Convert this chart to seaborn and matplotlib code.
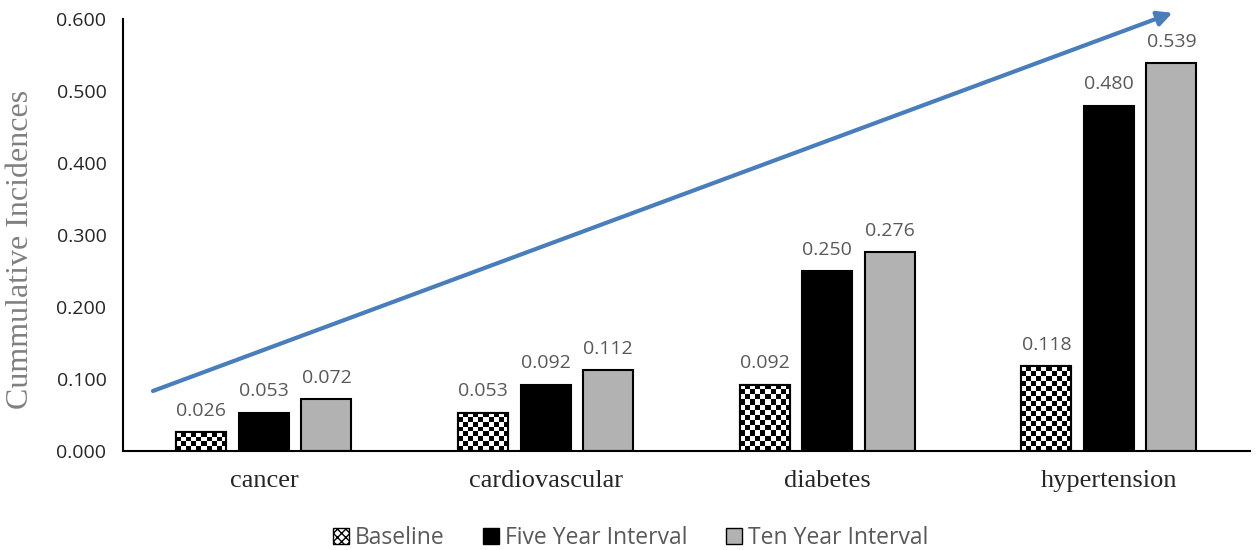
import numpy as np
import pandas as pd
import matplotlib
matplotlib.use('Agg')
import matplotlib.pyplot as plt
from matplotlib.patches import Patch
import seaborn as sns

categories = ['cancer', 'cardiovascular', 'diabetes', 'hypertension']
series = ['Baseline', 'Five Year Interval', 'Ten Year Interval']
baseline = [0.026, 0.053, 0.092, 0.118]
five_year = [0.053, 0.092, 0.250, 0.480]
ten_year = [0.072, 0.112, 0.276, 0.539]
y_ticks = [0.0, 0.1, 0.2, 0.3, 0.4, 0.5, 0.6]

df = pd.DataFrame({
    'disease': categories * 3,
    'series': [s for s in series for _ in categories],
    'value': baseline + five_year + ten_year,
})

sns.set_style('white')
plt.rcParams['font.family'] = ['Open Sans', 'DejaVu Sans']

fig = plt.figure(figsize=(12.56, 5.5), dpi=100)
ax = fig.add_axes([0.098, 0.18, 0.897, 0.785])

colors = ['white', 'black', '#b2b2b2']
sns.barplot(data=df, x='disease', y='value', hue='series', hue_order=series,
            order=categories, palette=colors, width=0.666, gap=0.2,
            edgecolor='black', linewidth=1.5, ax=ax, legend=False)

ax.set_xlim(-0.5, 3.5)
ax.set_ylim(0, 0.6)

# checkerboard fill for the baseline bars (cells about 5 px square)
px_per_x = 0.897 * 1256 / 4.0
px_per_y = 0.785 * 550 / 0.6
cell = 5.0
for bar in ax.containers[0]:
    x0, y0 = bar.get_x(), bar.get_y()
    w, h = bar.get_width(), bar.get_height()
    n_cols = max(int(round(w * px_per_x / cell)), 1)
    n_rows = max(int(round(h * px_per_y / cell)), 1)
    checker = np.indices((n_rows, n_cols)).sum(axis=0) % 2
    img = ax.imshow(checker, cmap='gray_r', interpolation='nearest',
                    extent=[x0, x0 + w, y0, y0 + h], aspect='auto',
                    zorder=bar.get_zorder() + 0.1)
    img.set_clip_path(bar)
    ax.add_patch(plt.Rectangle((x0, y0), w, h, fill=False, edgecolor='black',
                               linewidth=1.5, zorder=bar.get_zorder() + 0.2))
ax.set_aspect('auto')
ax.set_xlim(-0.5, 3.5)
ax.set_ylim(0, 0.6)

for cont in ax.containers:
    ax.bar_label(cont, fmt='%.3f', padding=9, fontsize=14, color='#595959')

ax.set_yticks(y_ticks)
ax.set_yticklabels([f'{t:.3f}' for t in y_ticks], fontsize=14)
ax.set_xticks(range(len(categories)))
ax.set_xticklabels(categories, fontsize=19, family='Liberation Serif')
ax.tick_params(axis='both', length=0)
ax.tick_params(axis='y', pad=12)
ax.tick_params(axis='x', pad=14)
ax.set_xlabel('')
ax.set_ylabel('Cummulative Incidences', family='Liberation Serif',
              fontsize=23, color='#808080')
ax.yaxis.set_label_coords(-0.078, 0.468)

for side in ['top', 'right']:
    ax.spines[side].set_visible(False)
for side in ['left', 'bottom']:
    ax.spines[side].set_color('black')
    ax.spines[side].set_linewidth(1.5)

# trend arrow
ax.annotate('', xy=(0.9315, 1.015), xytext=(0.0265, 0.139),
            xycoords='axes fraction', textcoords='axes fraction',
            arrowprops=dict(arrowstyle='-|>', color='#4a7ebb', lw=3,
                            mutation_scale=22, shrinkA=0, shrinkB=0),
            annotation_clip=False)

# legend
handles = [
    Patch(facecolor='white', edgecolor='black', hatch='xxxx', label=series[0]),
    Patch(facecolor='black', edgecolor='black', label=series[1]),
    Patch(facecolor='#b2b2b2', edgecolor='black', label=series[2]),
]
fig.legend(handles=handles, loc='center', bbox_to_anchor=(0.502, 0.022),
           ncol=3, frameon=False, fontsize=16.5, handlelength=0.7,
           handleheight=0.7, handletextpad=0.25, columnspacing=1.7,
           labelcolor='#595959')

fig.savefig('out.png', dpi=100)
